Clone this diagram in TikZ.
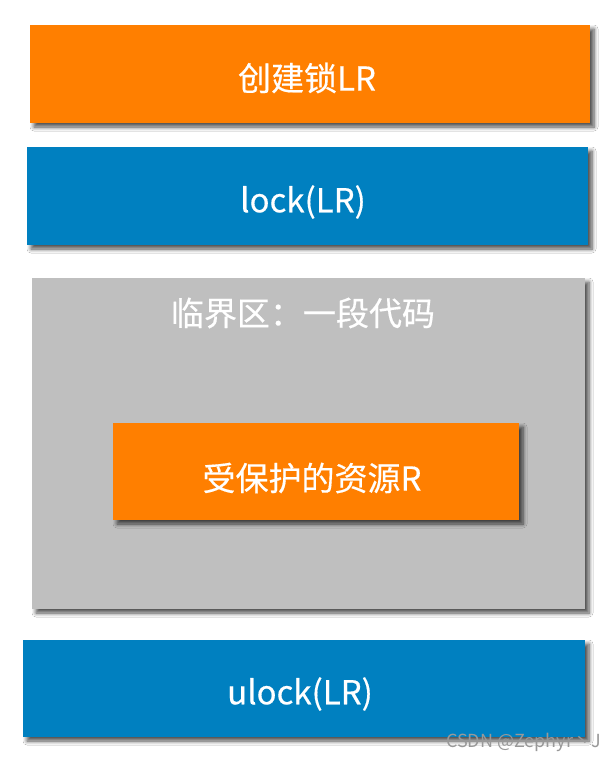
\documentclass[tikz,border=0pt]{standalone}
\usepackage{fontspec}
\setmainfont{Noto Sans CJK SC}[FakeBold=0.4]
\newfontfamily\wmfont{Noto Sans CJK SC}
\usetikzlibrary{shadows,shadows.blur,positioning}
\definecolor{boxorange}{HTML}{FF7F00}
\definecolor{boxblue}{HTML}{0080C0}
\definecolor{boxgrey}{HTML}{BFBFBF}
\tikzset{
  shadowed/.style={blur shadow={shadow xshift=4pt,shadow yshift=-4pt,shadow blur steps=6,shadow blur radius=4pt,shadow opacity=70}},
  blk/.style={rectangle,inner sep=0pt,shadowed,text=white,font=\fontsize{33}{40}\selectfont},
}
\begin{document}
\begin{tikzpicture}[x=1pt,y=-1pt]
\useasboundingbox[fill=white] (0,0) rectangle (614,763);
\node[blk,fill=boxorange,minimum width=560pt,minimum height=98pt] (create) at (310,74) {};
\node[text=white,font=\fontsize{33}{40}\selectfont,inner sep=0pt] (createtxt) at (307,78) {创建锁LR};
\node[blk,fill=boxblue,minimum width=561pt,minimum height=98pt] (lock) at (307.5,196) {};
\node[text=white,font=\fontsize{33}{40}\selectfont,inner sep=0pt] (locktxt) at (303,202) {lock(LR)};
\node[blk,fill=boxgrey,minimum width=553pt,minimum height=331pt] (crit) at (308.5,443.5) {};
\node[text=white,font=\fontsize{33}{40}\selectfont,inner sep=0pt] (title) at (303,313) {临界区：一段代码};
\node[blk,fill=boxorange,minimum width=406pt,minimum height=97pt] (res) at (316,471.5) {};
\node[text=white,font=\fontsize{33}{40}\selectfont,inner sep=0pt] (restxt) at (312,478) {受保护的资源R};
\node[blk,fill=boxblue,minimum width=562pt,minimum height=97pt] (ulock) at (304,688.5) {};
\node[text=white,font=\fontsize{33}{40}\selectfont,inner sep=0pt] (ulocktxt) at (300,694) {ulock(LR)};
\node[anchor=east,text=black!40,font=\wmfont\fontsize{18}{22}\selectfont,inner sep=0pt] (wm) at (601,742) {CSDN @Zephyr丶J};
\end{tikzpicture}
\end{document}
